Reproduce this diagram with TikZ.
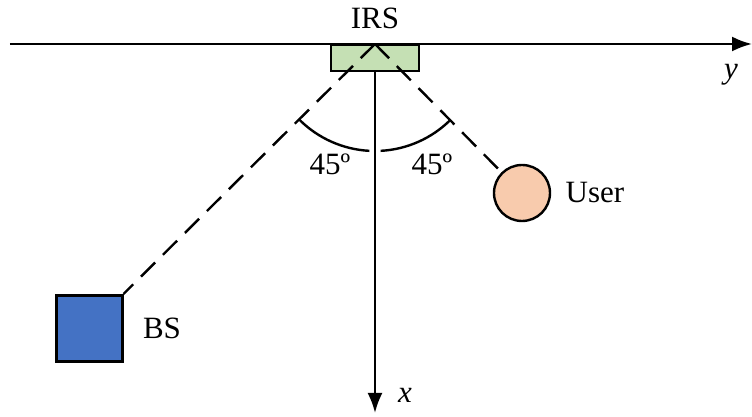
\documentclass[tikz,border=0pt]{standalone}
\usepackage{fontspec}
\setmainfont{Liberation Serif}
\usetikzlibrary{arrows.meta}
\definecolor{irsgreen}{RGB}{197,224,180}
\definecolor{bsblue}{RGB}{68,114,196}
\definecolor{userpeach}{RGB}{248,203,173}
\tikzset{
    axis/.style={line width=1.2pt, -{Latex[length=10pt, width=7.5pt]}},
    link/.style={line width=1.2pt, dash pattern=on 10pt off 5.5pt},
    lbl/.style={font=\fontsize{15.5}{18}\selectfont, inner sep=0pt}
}
\begin{document}
\begin{tikzpicture}[x=0.5pt, y=0.5pt]
    \useasboundingbox (0,0) rectangle (752,417);
    % 1. 坐标轴
    \coordinate (ystart) at (10,373);
    \coordinate (yend) at (752,373);
    \draw[axis] (ystart) -- (yend);
    \node[lbl] (ylab) at (731,342) {\textit{y}};

    % 2. IRS 与 x 轴
    \node[draw, line width=1.2pt, fill=irsgreen, minimum width=44pt, minimum height=13pt,
          inner sep=0pt, anchor=north] (irs) at (375,373) {};
    \node[lbl] (irslab) at (375,399) {IRS};
    \coordinate (xend) at (375,4);
    \draw[axis] (irs.south) -- (xend);
    \node[lbl] (xlab) at (405,22) {\textit{x}};

    % 3. BS 与 User
    \node[draw, line width=1.5pt, fill=bsblue, minimum size=33pt, inner sep=0pt] (bs) at (89,88.5) {};
    \node[lbl] (bslab) at (162,89) {BS};
    \node[draw, circle, line width=1.2pt, fill=userpeach, minimum size=28pt, inner sep=0pt] (user) at (522,224) {};
    \node[lbl] (userlab) at (595,224) {User};

    % 4. 虚线
    \draw[link] (irs.north) -- (bs.north east);
    \draw[link] (irs.north) -- (user);

    % 5. 角度
    \draw[line width=1.2pt] (irs.north) ++(-135:107) arc (-135:-93:107);
    \draw[line width=1.2pt] (irs.north) ++(-87:107) arc (-87:-45:107);
    \node[lbl] (angleft) at (330,253) {45º};
    \node[lbl] (angright) at (432,253) {45º};
\end{tikzpicture}
\end{document}
